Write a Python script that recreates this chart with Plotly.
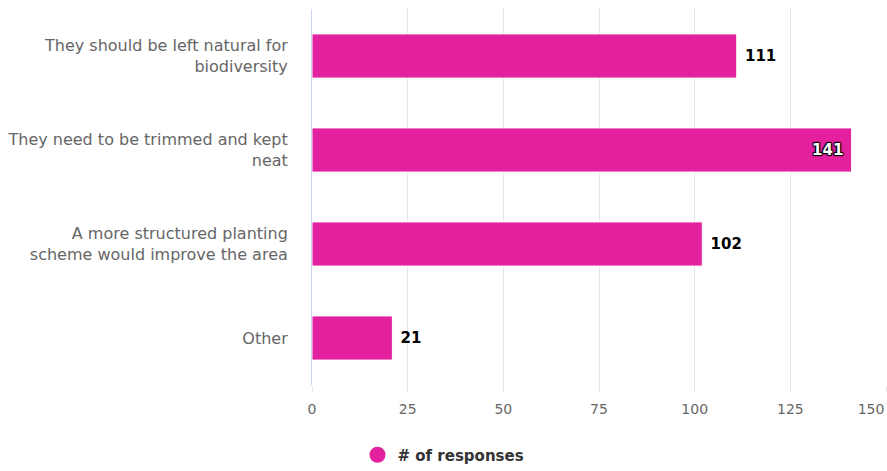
import plotly.graph_objects as go

categories = [
    "They should be left natural for<br>biodiversity",
    "They need to be trimmed and kept<br>neat",
    "A more structured planting<br>scheme would improve the area",
    "Other",
]
responses = [111, 141, 102, 21]
x_ticks = [0, 25, 50, 75, 100, 125]
x_end_tick = [150]
series_name = "# of responses"

BAR_COLOR = "#e3219f"
FONT = "DejaVu Sans"
x_max = 150
PAD = "\u00a0"

# labels that would overflow the plot go inside the bar end
positions = ["inside" if v > 0.9 * x_max else "outside" for v in responses]
labels = [(f"{v}{PAD}" if p == "inside" else f"{PAD}{v}")
          for v, p in zip(responses, positions)]

fig = go.Figure()
fig.add_trace(go.Bar(
    y=categories,
    x=responses,
    orientation="h",
    marker=dict(color=BAR_COLOR, line=dict(color="#ffffff", width=1)),
    text=labels,
    textposition=positions,
    insidetextanchor="end",
    textfont=dict(family=FONT, size=15, color="#000000", weight="bold"),
    insidetextfont=dict(family=FONT, size=15, color="#ffffff", weight="bold",
                        shadow="1px 1px 1px #000, -1px -1px 1px #000, 1px -1px 1px #000, -1px 1px 1px #000"),
    outsidetextfont=dict(family=FONT, size=15, color="#000000", weight="bold"),
    cliponaxis=False,
    showlegend=False,
    hoverinfo="x+y",
))
# legend entry with a round symbol
fig.add_trace(go.Scatter(
    x=[None], y=[None],
    mode="markers",
    marker=dict(color=BAR_COLOR, size=16, symbol="circle"),
    name=series_name,
    showlegend=True,
))
# carrier for the secondary axis holding the end tick label
fig.add_trace(go.Scatter(
    x=[None], y=[None], xaxis="x2", mode="markers",
    showlegend=False, hoverinfo="skip",
))

tick_font = dict(family=FONT, size=14, color="#666666")

fig.update_layout(
    width=887, height=471,
    margin=dict(l=312, r=1, t=9, b=86),
    paper_bgcolor="#ffffff",
    plot_bgcolor="#ffffff",
    bargap=0.53,
    font=dict(family=FONT, size=15, color="#666666"),
    xaxis=dict(
        range=[0, x_max],
        tickvals=x_ticks + x_end_tick,
        ticktext=[str(t) for t in x_ticks] + [""],
        showgrid=True,
        gridcolor="#e6e6e6",
        gridwidth=1,
        zeroline=False,
        showline=False,
        ticks="outside",
        ticklen=6,
        tickcolor="#e6e6e6",
        ticklabelstandoff=5,
        tickfont=tick_font,
    ),
    # last label is pulled inward so it stays on the page
    xaxis2=dict(
        overlaying="x",
        matches="x",
        anchor="y",
        side="bottom",
        range=[0, x_max],
        tickvals=x_end_tick,
        ticktext=[str(t) for t in x_end_tick],
        showgrid=False,
        zeroline=False,
        showline=False,
        ticks="",
        ticklabelstandoff=14,
        ticklabelshift=-15,
        tickfont=tick_font,
    ),
    yaxis=dict(
        autorange="reversed",
        showgrid=False,
        zeroline=False,
        showline=True,
        linecolor="#ccd6eb",
        linewidth=1,
        ticks="",
        ticklabelstandoff=20,
        tickfont=dict(family=FONT, size=16, color="#666666"),
    ),
    legend=dict(
        orientation="h",
        xref="container", yref="container",
        x=0.5, xanchor="center",
        y=0.034, yanchor="middle",
        font=dict(family=FONT, size=15, color="#333333", weight="bold"),
        itemsizing="trace",
    ),
)

fig.write_html("out.html")
